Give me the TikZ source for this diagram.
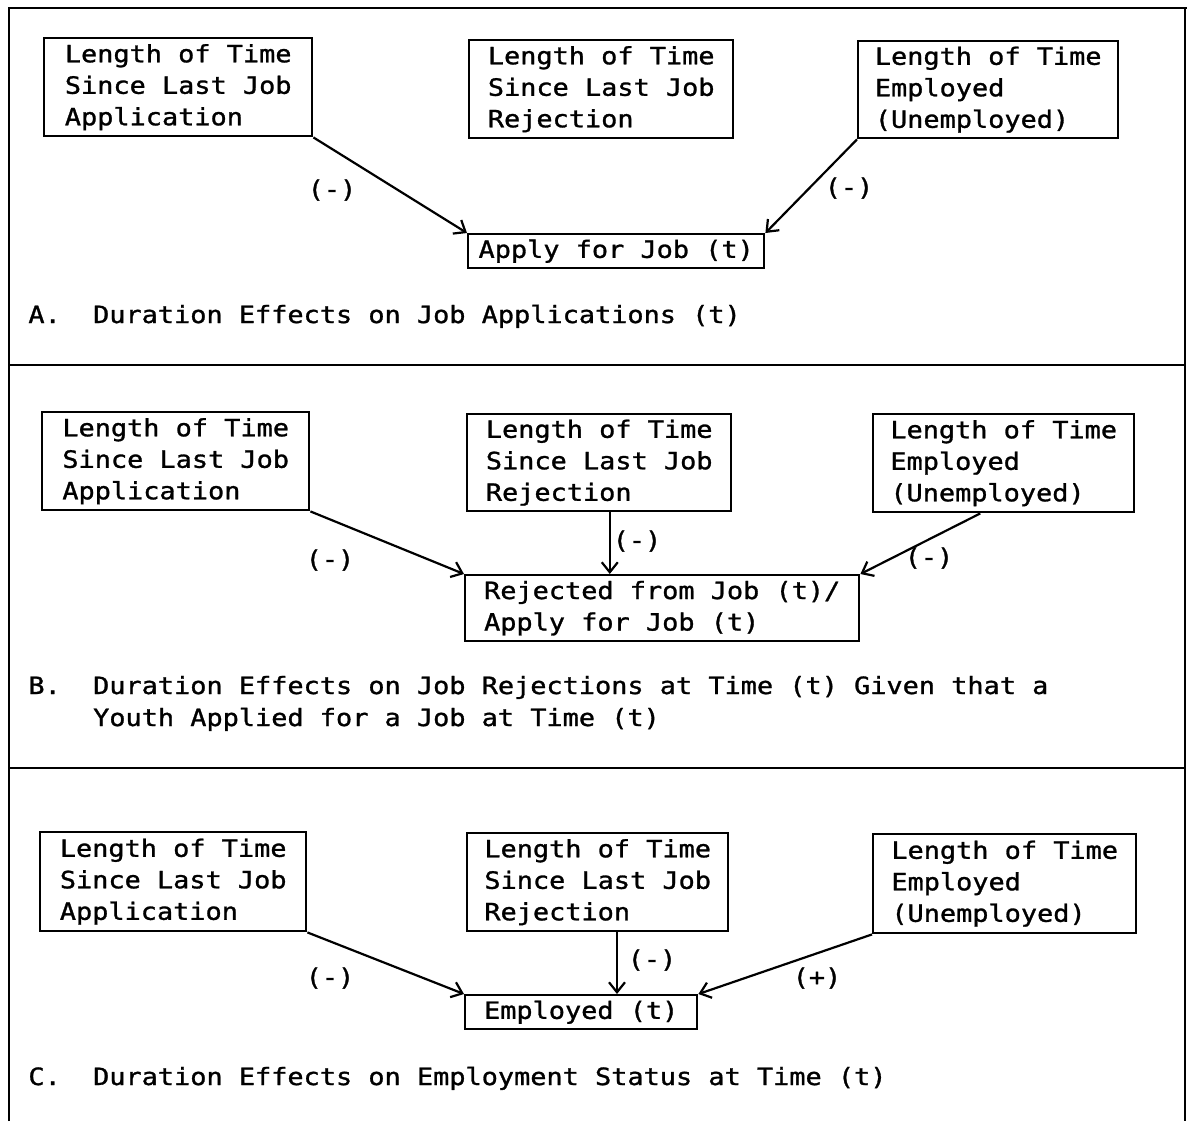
\documentclass[tikz,border=0pt]{standalone}
\usepackage{fontspec}
\usepackage{tikz}
\usetikzlibrary{arrows.meta}
\newfontfamily\typewriter[FakeStretch=1.13,FakeBold=1.2]{DejaVu Sans Mono}
\newcommand{\diagfont}{\typewriter\fontsize{11.9pt}{15.75pt}\selectfont}
\tikzset{
    x=0.5pt,
    y=-0.5pt,
    factor/.style = {
        draw,
        shape=rectangle,
        anchor=north west,
        align=left,
        inner sep=0pt,
        line width=1.2pt,
        font=\diagfont
    },
    outcome/.style = {
        factor
    },
    sign/.style = {
        inner sep=0pt,
        font=\diagfont
    },
    caption/.style = {
        anchor=base west,
        inner sep=0pt,
        font=\diagfont
    },
    frame/.style = {
        line width=1.3pt
    },
    effect/.style = {
        ->,
        line width=1.1pt
    },
    >={Straight Barb[length=5pt,width=8pt]},
}

\begin{document}
\begin{tikzpicture}
    \useasboundingbox (0,0) rectangle (1187,1121);

    % frame and panel rules
    \draw[frame] (9,1121) -- (9,8) -- (1187,8);
    \draw[frame] (1185,8) -- (1185,1121);
    \draw[frame] (9,365) -- (1185,365);
    \draw[frame] (9,768) -- (1185,768);

    % panel A
    \node[factor, minimum width=134pt, minimum height=49pt] (factA1) at (43,37) {Length of Time\\Since Last Job\\Application};
    \node[factor, minimum width=132pt, minimum height=49pt] (factA2) at (468,39) {Length of Time\\Since Last Job\\Rejection};
    \node[factor, minimum width=130pt, minimum height=48.5pt] (factA3) at (857,40) {Length of Time\\Employed\\(Unemployed)};
    \node[outcome, minimum width=148pt, minimum height=17pt] (goalA) at (467,233) {Apply for Job (t)};

    \path[draw, effect] (factA1.south east) -- (goalA.north west);
    \path[draw, effect] (factA3.south west) -- (goalA.north east);

    \node[sign] (sgnA1) at (332,190) {(-)};
    \node[sign] (sgnA3) at (849,188) {(-)};

    \node[caption] (capA) at (28,323) {A.~~Duration Effects on Job Applications (t)};

    % panel B
    \node[factor, minimum width=133.5pt, minimum height=49pt] (factB1) at (41,411) {Length of Time\\Since Last Job\\Application};
    \node[factor, minimum width=132pt, minimum height=48.5pt] (factB2) at (466,413) {Length of Time\\Since Last Job\\Rejection};
    \node[factor, minimum width=130.5pt, minimum height=49pt] (factB3) at (872,413) {Length of Time\\Employed\\(Unemployed)};
    \node[outcome, minimum width=197pt, minimum height=33pt] (goalB) at (464,574) {Rejected from Job (t)/\\Apply for Job (t)};

    \path[draw, effect] (factB1.south east) -- (goalB.north west);
    \path[draw, effect] (factB2.282) -- (factB2.282 |- goalB.north);
    \path[draw, effect] (factB3.245) -- (goalB.north east);

    \node[sign] (sgnB1) at (330,560) {(-)};
    \node[sign] (sgnB2) at (637,541) {(-)};
    \node[sign] (sgnB3) at (929,558) {(-)};

    \node[caption] (capB1) at (28,694) {B.~~Duration Effects on Job Rejections at Time (t) Given that a};
    \node[caption] (capB2) at (28,726) {\phantom{B.~~}Youth Applied for a Job at Time (t)};

    % panel C
    \node[factor, minimum width=133pt, minimum height=49.5pt] (factC1) at (39,831) {Length of Time\\Since Last Job\\Application};
    \node[factor, minimum width=130.5pt, minimum height=49pt] (factC2) at (466,832) {Length of Time\\Since Last Job\\Rejection};
    \node[factor, minimum width=131.5pt, minimum height=49.5pt] (factC3) at (872,833) {Length of Time\\Employed\\(Unemployed)};
    \node[outcome, minimum width=116pt, minimum height=17pt] (goalC) at (464,994) {Employed (t)};

    \path[draw, effect] (factC1.south east) -- (goalC.north west);
    \path[draw, effect] (factC2.291) -- (factC2.291 |- goalC.north);
    \path[draw, effect] (factC3.south west) -- (goalC.north east);

    \node[sign] (sgnC1) at (330,978) {(-)};
    \node[sign] (sgnC2) at (652,960) {(-)};
    \node[sign] (sgnC3) at (817,978) {(+)};

    \node[caption] (capC) at (28,1085) {C.~~Duration Effects on Employment Status at Time (t)};
\end{tikzpicture}
\end{document}
